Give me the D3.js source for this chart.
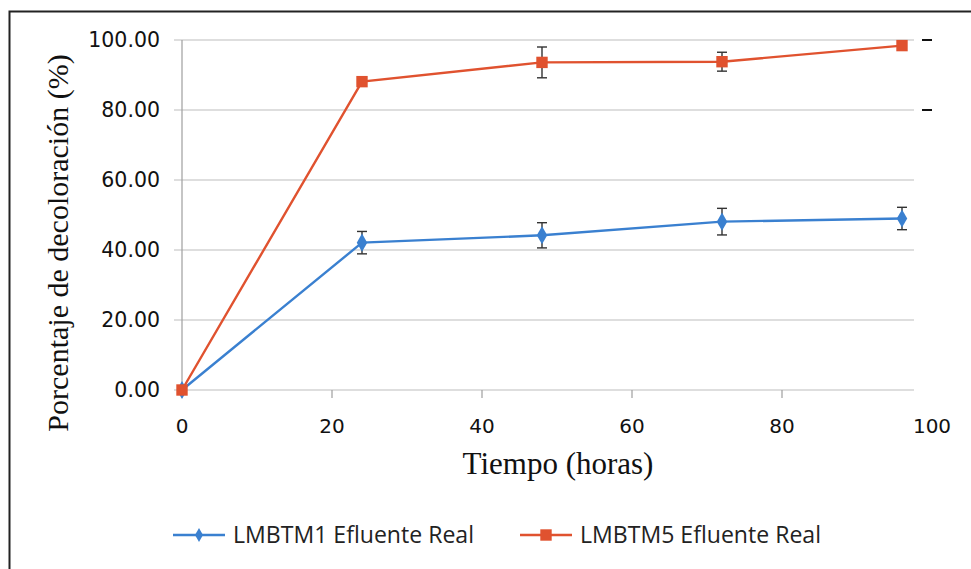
<!DOCTYPE html>
<html>
<head>
<meta charset="utf-8">
<script src="https://cdn.jsdelivr.net/npm/d3@7"></script>
<style>
  html, body { margin: 0; padding: 0; background: #fff; }
  svg { display: block; }
</style>
</head>
<body>
<svg id="chart" width="971" height="569"></svg>
<script>
// Decolorization over time for two strains on real effluent
const hours = [0, 24, 48, 72, 96];
const lmbtm1Values = [0, 42.1, 44.2, 48.1, 49.0];
const lmbtm1Errors = [0, 3.2, 3.6, 3.8, 3.2];
const lmbtm5Values = [0, 88.1, 93.6, 93.8, 98.4];
const lmbtm5Errors = [0, 0.5, 4.4, 2.7, 0.5];
const seriesNames = ["LMBTM1 Efluente Real", "LMBTM5 Efluente Real"];
const yTicks = [0, 20, 40, 60, 80, 100];
const xTicks = [0, 20, 40, 60, 80, 100];
const xTitle = "Tiempo (horas)";
const yTitle = "Porcentaje de decoloración (%)";

const svg = d3.select("#chart");
const W = 971, H = 569;

const x = d3.scaleLinear().domain([0, 100]).range([182, 932]);
const y = d3.scaleLinear().domain([0, 100]).range([390, 40]);
const gridRight = 914;

// outer frame (only top and left edges fall inside the view)
svg.append("rect").attr("x", 9.5).attr("y", 11.5)
  .attr("width", W + 20).attr("height", H + 20)
  .attr("fill", "none").attr("stroke", "#222").attr("stroke-width", 2);

// horizontal gridlines with short ticks to the left of the axis
const grid = svg.append("g");
grid.selectAll("line").data(yTicks).join("line")
  .attr("x1", x(0) - 8).attr("x2", gridRight)
  .attr("y1", d => y(d)).attr("y2", d => y(d))
  .attr("stroke", "#bdbdbd").attr("stroke-width", 1.2);

// vertical axis line
svg.append("line").attr("x1", x(0)).attr("x2", x(0))
  .attr("y1", y(100)).attr("y2", y(0))
  .attr("stroke", "#9e9e9e").attr("stroke-width", 1.2);

// x tick marks below the baseline
svg.append("g").selectAll("line").data(xTicks.filter(d => x(d) <= gridRight)).join("line")
  .attr("x1", d => x(d)).attr("x2", d => x(d))
  .attr("y1", y(0)).attr("y2", y(0) + 8)
  .attr("stroke", "#9e9e9e").attr("stroke-width", 1.2);

// small marks on the right side at the two upper levels
svg.append("g").selectAll("line").data([100, 80]).join("line")
  .attr("x1", 922).attr("x2", 932)
  .attr("y1", d => y(d)).attr("y2", d => y(d))
  .attr("stroke", "#111").attr("stroke-width", 2);

// y tick labels
svg.append("g").selectAll("text").data(yTicks).join("text")
  .attr("x", 160).attr("y", d => y(d))
  .attr("dy", "0.36em").attr("text-anchor", "end")
  .attr("font-family", "DejaVu Sans, Verdana, sans-serif")
  .attr("font-size", 20.5).attr("fill", "#111")
  .text(d => d3.format(".2f")(d));

// x tick labels
svg.append("g").selectAll("text").data(xTicks).join("text")
  .attr("x", d => x(d)).attr("y", 433)
  .attr("text-anchor", "middle")
  .attr("font-family", "DejaVu Sans, Verdana, sans-serif")
  .attr("font-size", 20).attr("fill", "#111")
  .text(d => d);

// axis titles
svg.append("text").attr("x", 558).attr("y", 474)
  .attr("text-anchor", "middle")
  .attr("font-family", "Liberation Serif, Times New Roman, serif")
  .attr("font-size", 31).attr("fill", "#111")
  .text(xTitle);

svg.append("text")
  .attr("transform", `translate(68, 243) rotate(-90)`)
  .attr("text-anchor", "middle")
  .attr("font-family", "Liberation Serif, Times New Roman, serif")
  .attr("font-size", 30).attr("fill", "#111")
  .text(yTitle);

const blue = "#3a80d0";
const red = "#e0522f";

const series = [
  { name: seriesNames[0], values: lmbtm1Values, errors: lmbtm1Errors, color: blue, symbol: d3.symbolDiamond, size: 95, legendSize: 55 },
  { name: seriesNames[1], values: lmbtm5Values, errors: lmbtm5Errors, color: red, symbol: d3.symbolSquare, size: 130, legendSize: 130 }
];

const line = d3.line().x(d => x(d[0])).y(d => y(d[1]));

series.forEach(s => {
  const pts = hours.map((h, i) => [h, s.values[i], s.errors[i]]);
  const g = svg.append("g");
  g.append("path").datum(pts).attr("d", line)
    .attr("fill", "none").attr("stroke", s.color).attr("stroke-width", 2.4);
  // error bars
  const eb = g.append("g").attr("stroke", "#333").attr("stroke-width", 1.4);
  pts.filter(p => p[2] > 0).forEach(p => {
    eb.append("line").attr("x1", x(p[0])).attr("x2", x(p[0]))
      .attr("y1", y(p[1] + p[2])).attr("y2", y(p[1] - p[2]));
    [p[1] + p[2], p[1] - p[2]].forEach(v => {
      eb.append("line").attr("x1", x(p[0]) - 5).attr("x2", x(p[0]) + 5)
        .attr("y1", y(v)).attr("y2", y(v));
    });
  });
  g.selectAll("path.m").data(pts).join("path").attr("class", "m")
    .attr("transform", p => `translate(${x(p[0])},${y(p[1])})`)
    .attr("d", d3.symbol().type(s.symbol).size(s.size))
    .attr("fill", s.color);
});

// legend
const legendItems = [
  { s: series[0], x0: 173 },
  { s: series[1], x0: 520 }
];
legendItems.forEach(item => {
  const g = svg.append("g").attr("transform", `translate(${item.x0},535)`);
  g.append("line").attr("x1", 0).attr("x2", 52).attr("y1", 0).attr("y2", 0)
    .attr("stroke", item.s.color).attr("stroke-width", 2.4);
  g.append("path").attr("transform", "translate(26,0)")
    .attr("d", d3.symbol().type(item.s.symbol).size(item.s.legendSize))
    .attr("fill", item.s.color);
  g.append("text").attr("x", 60).attr("y", 0).attr("dy", "0.36em")
    .attr("font-family", "Open Sans, sans-serif")
    .attr("font-size", 23.5).attr("fill", "#222")
    .attr("textLength", 241).attr("lengthAdjust", "spacingAndGlyphs")
    .text(item.s.name);
});
</script>
</body>
</html>
